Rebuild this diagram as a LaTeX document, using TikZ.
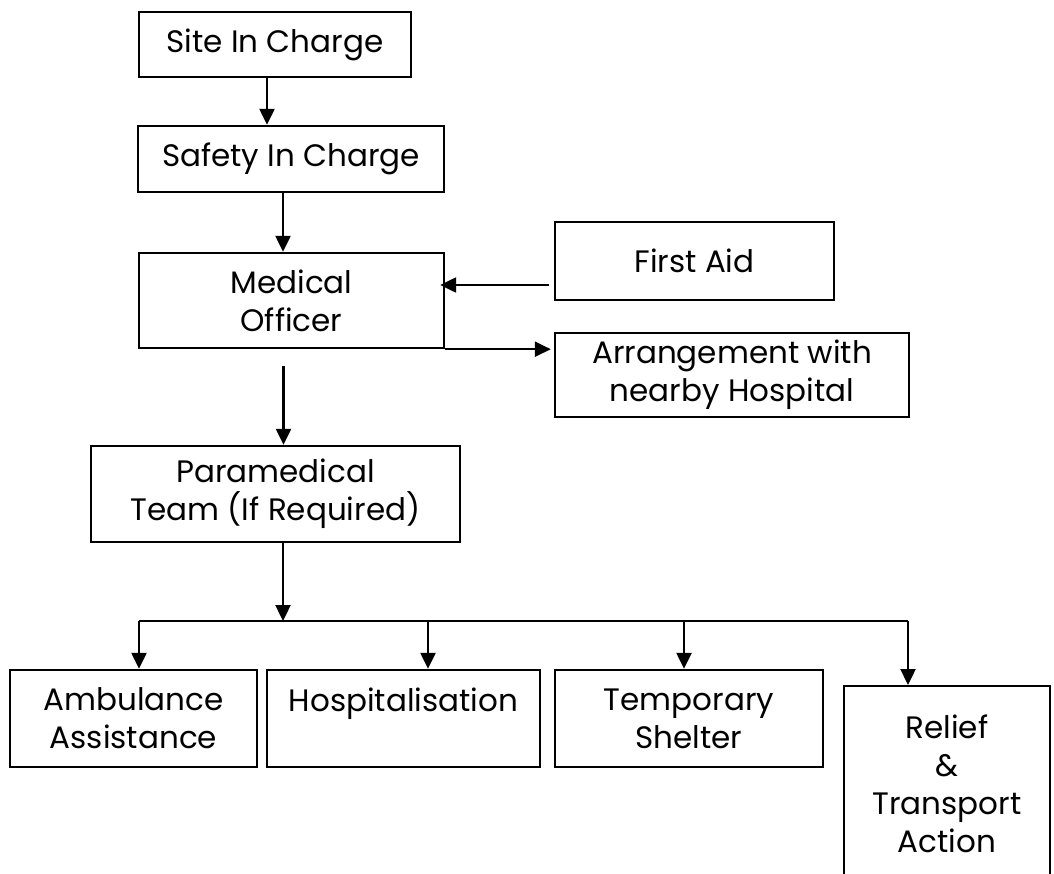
\documentclass[tikz,border=0pt]{standalone}
\usepackage{fontspec}
\setmainfont{Poppins}
\usetikzlibrary{arrows.meta}

\tikzset{
	box/.style={draw, line width=2.4pt, align=center, inner sep=0pt,
		font=\fontsize{31}{38}\selectfont},
	arr/.style={line width=2.4pt, -{Triangle[length=16pt,width=15pt]}},
	wire/.style={line width=2.4pt}
}

\begin{document}
\begin{tikzpicture}[x=1pt,y=-1pt]
	\useasboundingbox (0,0) rectangle (1054,874);
	\fill[white] (0,0) rectangle (1054,874);
	\clip (0,0) rectangle (1054,874);
	% chain of command
	\node[box, minimum width=272, minimum height=65] (site) at (275,44.5) {Site In Charge};
	\node[box, minimum width=306, minimum height=66] (safety) at (291,159) {Safety In Charge};
	\node[box, minimum width=305, minimum height=95] (medical) at (291.5,300.5) {Medical\\Officer};
	\node[box, minimum width=279, minimum height=78] (firstaid) at (694.5,261) {First Aid};
	\node[box, minimum width=354, minimum height=84] (arrange) at (732,375) {Arrangement with\\nearby Hospital};
	\node[box, minimum width=369, minimum height=96] (para) at (275.5,494) {Paramedical\\Team (If Required)};
	% bottom row
	\node[box, minimum width=247, minimum height=97] (amb) at (133.5,718.5) {Ambulance\\Assistance};
	\node[box, minimum width=273, minimum height=97] (hosp) at (403.5,718.5) {Hospitalisation\\\mbox{}};
	\node[box, minimum width=268, minimum height=97] (temp) at (689,718.5) {Temporary\\Shelter};
	\node[box, minimum width=206, minimum height=196, anchor=north] (relief) at (947,685) {Relief\\\&\\Transport\\Action};

	\draw[arr] ([xshift=-8pt]site.south) -- ([xshift=-8pt]site.south |- safety.north);
	\draw[arr] ([xshift=-8pt]safety.south) -- ([xshift=-8pt]safety.south |- medical.north);
	\draw[arr] ([yshift=-24pt,xshift=-5pt]firstaid.west) -- ([yshift=-24pt,xshift=-5pt]firstaid.west -| medical.east);
	\draw[arr] (medical.south east) -- ([xshift=-3pt]medical.south east -| arrange.west);
	\draw[arr] ([xshift=-8pt,yshift=-17pt]medical.south) -- ([xshift=-8pt]medical.south |- para.north);

	%\draw (0,0) node {bus};
	\coordinate (bus) at (283,621);
	\draw[arr] ([xshift=7.5pt]para.south) -- (bus);
	\draw[wire] (139,621) -- (908,621);
	\foreach \n/\x in {amb/139,hosp/428,temp/684,relief/908}
		\draw[arr] (\x,621) -- (\x,0 |- \n.north);
\end{tikzpicture}
\end{document}
